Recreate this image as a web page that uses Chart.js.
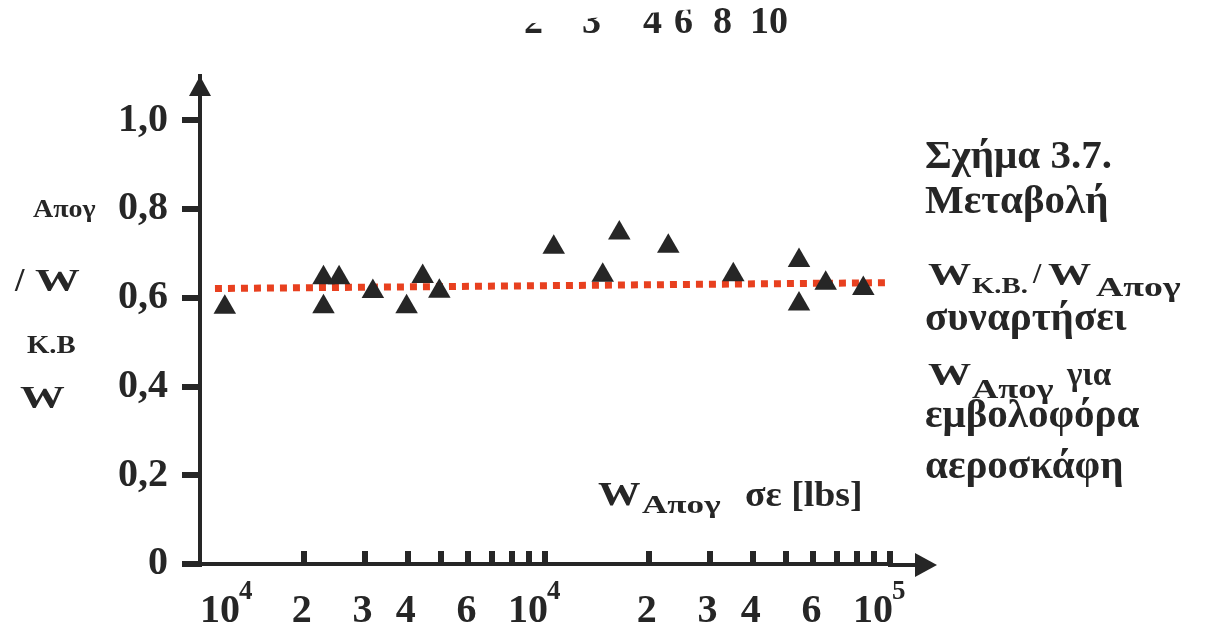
<!DOCTYPE html>
<html>
<head>
<meta charset="utf-8">
<script src="https://cdn.jsdelivr.net/npm/chart.js@4.4.1/dist/chart.umd.min.js"></script>
<style>
  html, body { margin: 0; padding: 0; background: #fff; }
  canvas { display: block; }
</style>
</head>
<body>
<canvas id="chart" width="1213" height="630"></canvas>
<script>
// take-off weight W_Απογ [lbs] of each aircraft
const weights = [1180, 2280, 2530, 2280, 3170, 3970, 4420, 4940, 10600, 14700, 16420, 22770, 35140, 54480, 54480, 65110, 83680];
// ratio W_K.B / W_Απογ
const ratios = [0.579, 0.645, 0.645, 0.580, 0.614, 0.580, 0.648, 0.615, 0.714, 0.651, 0.746, 0.716, 0.652, 0.684, 0.586, 0.633, 0.621];

// dotted mean line, start and end
const meanX = [1105, 97970];
const meanY = [0.621, 0.634];

// axis ticks and labels
const yTicks = [0, 0.1, 0.2, 0.3, 0.4, 0.5, 0.6, 0.7, 0.8, 0.9, 1.0];
const yLabels = ['0', '', '0,2', '', '0,4', '', '0,6', '', '0,8', '', '1,0'];
const xTicks = [2000, 3000, 4000, 5000, 6000, 7000, 8000, 9000, 10000,
                20000, 30000, 40000, 50000, 60000, 70000, 80000, 90000, 100000];
const xLabelValues = [1000, 2000, 3000, 4000, 6000, 10000, 20000, 30000, 40000, 60000, 100000];
const xLabelBase = ['10', '2', '3', '4', '6', '10', '2', '3', '4', '6', '10'];
const xLabelSup = ['4', '', '', '', '', '4', '', '', '', '', '5'];
const xLabelAlign = ['left', 'center', 'center', 'center', 'center', 'right', 'center', 'center', 'center', 'center', 'right'];

// scale of the figure above, cut off by the page edge
const topScale = ['2', '3', '4', '6', '8', '10'];

const INK = '#262626';
const RED = '#e8401f';
const FONT = '"Liberation Serif", "Times New Roman", serif';

function txt(ctx, t, x, y, size, sx) {
  ctx.save();
  ctx.font = 'bold ' + size + 'px ' + FONT;
  ctx.translate(x, y);
  ctx.scale(sx || 1, 1);
  ctx.fillText(t, 0, 0);
  ctx.restore();
}

const decor = {
  id: 'decor',
  afterDraw(chart) {
    const ctx = chart.ctx;
    const xs = chart.scales.x;
    const area = chart.chartArea;
    ctx.save();
    ctx.fillStyle = INK;
    ctx.strokeStyle = INK;
    ctx.textAlign = 'left';
    ctx.textBaseline = 'alphabetic';

    // x ticks point up into the plot
    xTicks.forEach(v => {
      const px = Math.round(xs.getPixelForValue(v));
      ctx.fillRect(px - 3, area.bottom - 13, 6, 13);
    });

    // x labels with superscripts
    xLabelValues.forEach((v, i) => {
      const px = xs.getPixelForValue(v);
      ctx.font = 'bold 40px ' + FONT;
      const wb = ctx.measureText(xLabelBase[i]).width;
      ctx.font = 'bold 27px ' + FONT;
      const ws = xLabelSup[i] ? ctx.measureText(xLabelSup[i]).width : 0;
      let x0;
      if (xLabelAlign[i] === 'left') x0 = px;
      else if (xLabelAlign[i] === 'right') x0 = px - wb + 3;
      else x0 = px - (wb + ws) / 2 - 2;
      txt(ctx, xLabelBase[i], x0, 622, 40);
      if (ws) txt(ctx, xLabelSup[i], x0 + wb - 1, 599, 27);
    });

    // axis arrows
    ctx.beginPath();
    ctx.moveTo(area.left, area.top);
    ctx.lineTo(area.left - 11, area.top + 20);
    ctx.lineTo(area.left + 11, area.top + 20);
    ctx.closePath();
    ctx.fill();
    ctx.lineWidth = 4;
    ctx.beginPath();
    ctx.moveTo(area.right - 2, area.bottom + 1);
    ctx.lineTo(920, area.bottom + 1);
    ctx.stroke();
    ctx.beginPath();
    ctx.moveTo(937, area.bottom + 1);
    ctx.lineTo(915, area.bottom - 11);
    ctx.lineTo(915, area.bottom + 13);
    ctx.closePath();
    ctx.fill();

    // y axis title, broken in rows
    txt(ctx, 'Απογ', 33, 217, 25, 1.12);
    txt(ctx, '/', 15, 291, 34);
    txt(ctx, 'W', 35, 291, 32, 1.4);
    txt(ctx, 'Κ.Β', 27, 353, 25, 1.15);
    txt(ctx, 'W', 20, 408, 32, 1.4);

    // x axis title
    txt(ctx, 'W', 598, 505, 34, 1.25);
    txt(ctx, 'Απογ', 642, 513, 26, 1.35);
    txt(ctx, 'σε [lbs]', 745, 506, 36, 1.05);

    // caption
    txt(ctx, 'Σχήμα 3.7.', 925, 168, 41);
    txt(ctx, 'Μεταβολή', 925, 213, 41);
    txt(ctx, 'W', 928, 285, 32, 1.35);
    txt(ctx, 'Κ.Β.', 972, 293, 23, 1.25);
    txt(ctx, '/', 1033, 283, 30);
    txt(ctx, 'W', 1048, 285, 32, 1.35);
    txt(ctx, 'Απογ', 1096, 296, 27, 1.4);
    txt(ctx, 'συναρτήσει', 925, 330, 41);
    txt(ctx, 'W', 928, 385, 32, 1.35);
    txt(ctx, 'Απογ', 972, 398, 27, 1.35);
    txt(ctx, 'για', 1067, 385, 33);
    txt(ctx, 'εμβολοφόρα', 925, 427, 41);
    txt(ctx, 'αεροσκάφη', 925, 478, 41);

    // cut-off scale of the figure above (slanted page edge)
    ctx.save();
    ctx.beginPath();
    ctx.moveTo(500, 26);
    ctx.lineTo(800, 0);
    ctx.lineTo(800, 60);
    ctx.lineTo(500, 60);
    ctx.closePath();
    ctx.clip();
    const topX = [524, 582, 643, 674, 713, 750];
    topScale.forEach((t, i) => txt(ctx, t, topX[i], 33, 38));
    ctx.restore();
    ctx.restore();
  }
};

new Chart(document.getElementById('chart'), {
  type: 'scatter',
  data: {
    datasets: [
      {
        label: 'W_K.B / W_Απογ',
        data: weights.map((w, i) => ({ x: w, y: ratios[i] })),
        pointStyle: 'triangle',
        pointRadius: 13,
        backgroundColor: INK,
        borderWidth: 0,
        order: 0
      },
      {
        label: 'mean',
        data: meanX.map((x, i) => ({ x: x, y: meanY[i] })),
        showLine: true,
        borderColor: RED,
        borderWidth: 7,
        borderDash: [7, 6],
        pointRadius: 0,
        order: 1
      }
    ]
  },
  options: {
    responsive: false,
    devicePixelRatio: 1,
    animation: false,
    events: [],
    layout: { padding: { top: 76, right: 323, bottom: 0, left: 0 } },
    plugins: { legend: { display: false }, tooltip: { enabled: false } },
    scales: {
      x: {
        type: 'logarithmic',
        min: 1000,
        max: 100000,
        afterFit: s => { s.height = 66; },
        grid: { display: false },
        border: { display: true, color: INK, width: 4 },
        ticks: { display: false }
      },
      y: {
        min: 0,
        max: 1.1,
        afterFit: s => { s.width = 200; },
        afterBuildTicks: s => { s.ticks = yTicks.map(v => ({ value: v })); },
        grid: { drawOnChartArea: false, tickLength: 18, lineWidth: 6, color: INK },
        border: { display: true, color: INK, width: 4 },
        ticks: {
          padding: 14,
          color: INK,
          font: { family: FONT, size: 40, weight: 'bold' },
          callback: (v, i) => yLabels[i]
        }
      }
    }
  },
  plugins: [decor]
});
</script>
</body>
</html>
